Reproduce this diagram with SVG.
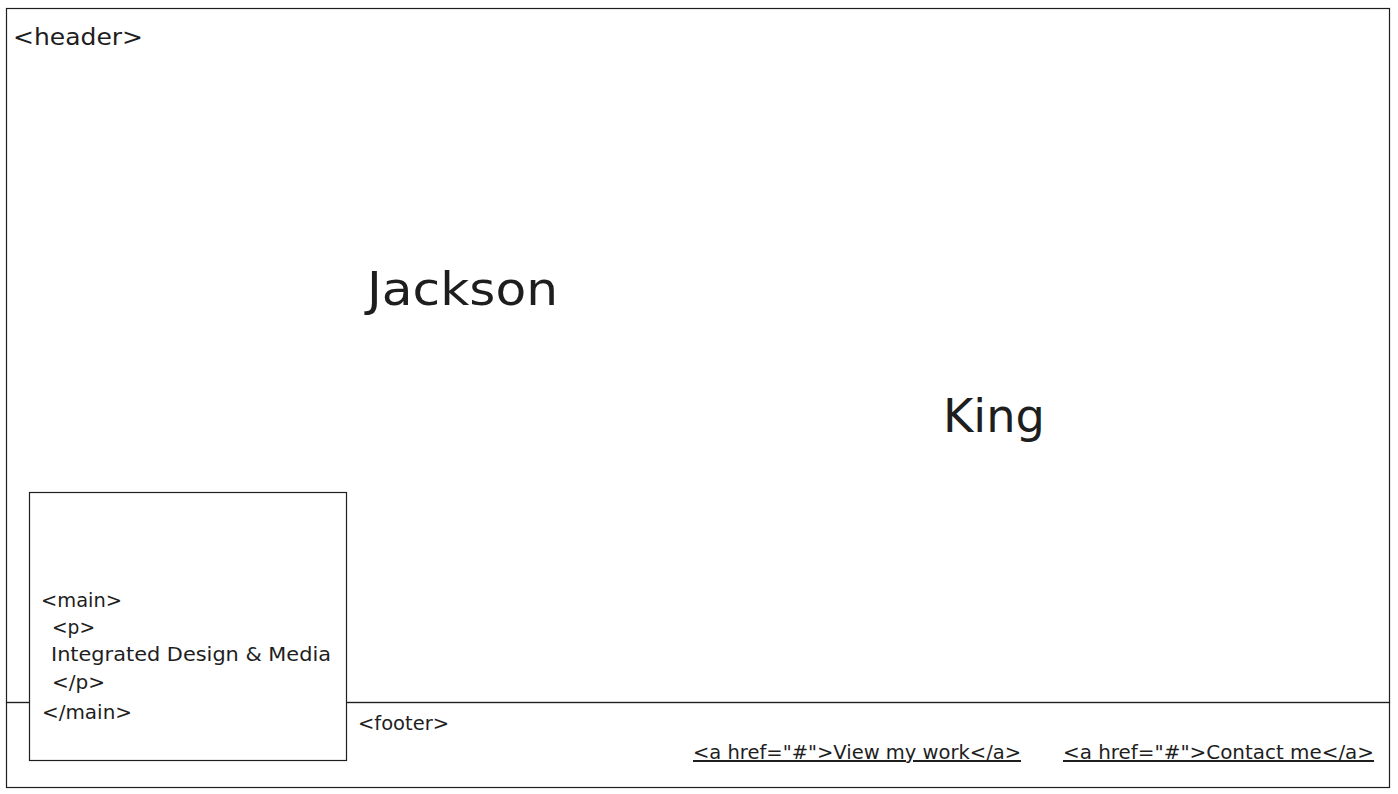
<svg xmlns="http://www.w3.org/2000/svg" width="1398" height="794" viewBox="0 0 1398 794">
<style>
.box{fill:none;stroke:#1e1e1e;stroke-width:1.2}
.mainbox{fill:#ffffff;stroke:#1e1e1e;stroke-width:1.2}
.t{font-family:"DejaVu Sans","Open Sans",sans-serif;fill:#1e1e1e}
.s{font-size:20px}
.big{font-size:46px}
.u{text-decoration:underline}
</style>
<rect width="1398" height="794" fill="#ffffff"/>
<g id="header">
<rect class="box" x="6.5" y="8.5" width="1383" height="694"/>
<text class="t" x="13" y="45" font-size="23" textLength="130" lengthAdjust="spacingAndGlyphs">&lt;header&gt;</text>
<text class="t big" x="367" y="305" textLength="191" lengthAdjust="spacingAndGlyphs">Jackson</text>
<text class="t big" x="943" y="432" textLength="102" lengthAdjust="spacingAndGlyphs">King</text>
</g>
<g id="footer">
<rect class="box" x="6.5" y="702.5" width="1383" height="85"/>
<text class="t s" x="358" y="730" textLength="91" lengthAdjust="spacingAndGlyphs">&lt;footer&gt;</text>
<text class="t s u" x="693" y="759" textLength="328" lengthAdjust="spacingAndGlyphs">&lt;a href="#"&gt;View my work&lt;/a&gt;</text>
<text class="t s u" x="1063" y="759" textLength="311" lengthAdjust="spacingAndGlyphs">&lt;a href="#"&gt;Contact me&lt;/a&gt;</text>
</g>
<g id="main">
<rect class="mainbox" x="29.5" y="492.5" width="317" height="268"/>
<text class="t s" x="41" y="607" textLength="81" lengthAdjust="spacingAndGlyphs">&lt;main&gt;</text>
<text class="t s" x="52" y="634" textLength="43" lengthAdjust="spacingAndGlyphs">&lt;p&gt;</text>
<text class="t s" x="51" y="661" textLength="280" lengthAdjust="spacingAndGlyphs">Integrated Design &amp; Media</text>
<text class="t s" x="52" y="689" textLength="53" lengthAdjust="spacingAndGlyphs">&lt;/p&gt;</text>
<text class="t s" x="42" y="719" textLength="90" lengthAdjust="spacingAndGlyphs">&lt;/main&gt;</text>
</g>
<g id="connectors"/>
</svg>
